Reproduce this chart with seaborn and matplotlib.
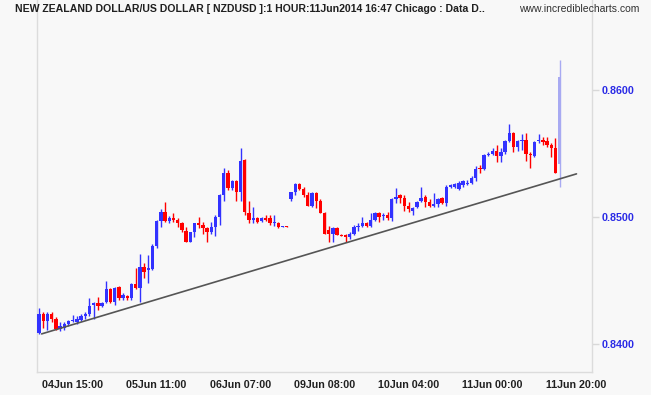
import matplotlib
matplotlib.use("Agg")
import matplotlib.pyplot as plt
import numpy as np
import pandas as pd
import seaborn as sns

# ---------------- data (NZDUSD, 1 hour candles) ----------------
opens = [0.8409, 0.8424, 0.8418, 0.8424, 0.8420, 0.8412, 0.8413, 0.8416, 0.8418, 0.8417,
         0.8419, 0.8422, 0.8424, 0.8431, 0.8432, 0.8430, 0.8433, 0.8443, 0.8433, 0.8445,
         0.8436, 0.8438, 0.8436, 0.8447, 0.8444, 0.8461, 0.8458, 0.8459, 0.8477, 0.8497,
         0.8504, 0.8497, 0.8499, 0.8498, 0.8495, 0.8489, 0.8480, 0.8488, 0.8495, 0.8494,
         0.8491, 0.8488, 0.8492, 0.8500, 0.8517, 0.8535, 0.8523, 0.8528, 0.8520, 0.8545,
         0.8503, 0.8498, 0.8499, 0.8497, 0.8499, 0.8499, 0.8495, 0.8495, 0.8492, 0.8493,
         0.8514, 0.8520, 0.8526, 0.8522, 0.8517, 0.8509, 0.8519, 0.8513, 0.8503, 0.8490,
         0.8487, 0.8491, 0.8486, 0.8486, 0.8484, 0.8487, 0.8492, 0.8493, 0.8495, 0.8493,
         0.8498, 0.8503, 0.8501, 0.8502, 0.8499, 0.8514, 0.8517, 0.8515, 0.8509, 0.8505,
         0.8508, 0.8513, 0.8516, 0.8512, 0.8509, 0.8510, 0.8515, 0.8511, 0.8524, 0.8524,
         0.8522, 0.8525, 0.8526, 0.8527, 0.8531, 0.8539, 0.8538, 0.8549, 0.8550, 0.8552,
         0.8548, 0.8551, 0.8560, 0.8566, 0.8555, 0.8560, 0.8561, 0.8550, 0.8548, 0.8560,
         0.8561, 0.8560, 0.8557, 0.8554, 0.8542]
highs = [0.8428, 0.8425, 0.8425, 0.8425, 0.8421, 0.8417, 0.8417, 0.8419, 0.8423, 0.8422,
         0.8424, 0.8425, 0.8436, 0.8433, 0.8437, 0.8433, 0.8450, 0.8444, 0.8445, 0.8446,
         0.8440, 0.8439, 0.8448, 0.8460, 0.8471, 0.8464, 0.8470, 0.8479, 0.8498, 0.8506,
         0.8512, 0.8501, 0.8503, 0.8499, 0.8496, 0.8492, 0.8488, 0.8495, 0.8500, 0.8496,
         0.8492, 0.8496, 0.8502, 0.8518, 0.8539, 0.8537, 0.8529, 0.8529, 0.8554, 0.8546,
         0.8513, 0.8508, 0.8500, 0.8500, 0.8502, 0.8502, 0.8502, 0.8496, 0.8493, 0.8493,
         0.8520, 0.8527, 0.8527, 0.8524, 0.8520, 0.8520, 0.8520, 0.8514, 0.8504, 0.8493,
         0.8492, 0.8492, 0.8487, 0.8487, 0.8488, 0.8494, 0.8495, 0.8500, 0.8496, 0.8503,
         0.8504, 0.8504, 0.8503, 0.8504, 0.8515, 0.8523, 0.8518, 0.8517, 0.8512, 0.8508,
         0.8513, 0.8524, 0.8517, 0.8514, 0.8519, 0.8515, 0.8516, 0.8525, 0.8526, 0.8527,
         0.8528, 0.8529, 0.8529, 0.8532, 0.8540, 0.8541, 0.8550, 0.8551, 0.8554, 0.8557,
         0.8554, 0.8561, 0.8573, 0.8567, 0.8561, 0.8565, 0.8566, 0.8551, 0.8560, 0.8565,
         0.8563, 0.8563, 0.8558, 0.8562, 0.8624]
lows = [0.8408, 0.8413, 0.8411, 0.8417, 0.8411, 0.8410, 0.8411, 0.8414, 0.8417, 0.8416,
        0.8418, 0.8420, 0.8422, 0.8420, 0.8427, 0.8429, 0.8432, 0.8432, 0.8431, 0.8435,
        0.8435, 0.8435, 0.8435, 0.8443, 0.8433, 0.8452, 0.8448, 0.8458, 0.8476, 0.8492,
        0.8496, 0.8495, 0.8496, 0.8492, 0.8488, 0.8480, 0.8480, 0.8484, 0.8491, 0.8487,
        0.8480, 0.8487, 0.8485, 0.8494, 0.8513, 0.8521, 0.8521, 0.8513, 0.8513, 0.8502,
        0.8495, 0.8495, 0.8495, 0.8496, 0.8497, 0.8494, 0.8493, 0.8491, 0.8492, 0.8492,
        0.8513, 0.8517, 0.8521, 0.8516, 0.8509, 0.8508, 0.8507, 0.8503, 0.8487, 0.8480,
        0.8480, 0.8486, 0.8485, 0.8480, 0.8483, 0.8486, 0.8489, 0.8492, 0.8492, 0.8492,
        0.8497, 0.8496, 0.8498, 0.8498, 0.8497, 0.8511, 0.8511, 0.8505, 0.8504, 0.8502,
        0.8507, 0.8512, 0.8508, 0.8508, 0.8508, 0.8508, 0.8510, 0.8509, 0.8523, 0.8523,
        0.8521, 0.8524, 0.8525, 0.8526, 0.8528, 0.8535, 0.8537, 0.8548, 0.8549, 0.8543,
        0.8543, 0.8550, 0.8559, 0.8551, 0.8552, 0.8553, 0.8544, 0.8539, 0.8547, 0.8558,
        0.8557, 0.8555, 0.8547, 0.8535, 0.8524]
closes = [0.8424, 0.8418, 0.8424, 0.8420, 0.8412, 0.8414, 0.8416, 0.8418, 0.8419, 0.8420,
          0.8422, 0.8424, 0.8430, 0.8432, 0.8430, 0.8432, 0.8443, 0.8433, 0.8444, 0.8436,
          0.8439, 0.8436, 0.8447, 0.8444, 0.8461, 0.8457, 0.8460, 0.8477, 0.8497, 0.8504,
          0.8497, 0.8499, 0.8498, 0.8495, 0.8490, 0.8480, 0.8488, 0.8495, 0.8494, 0.8491,
          0.8488, 0.8492, 0.8500, 0.8517, 0.8535, 0.8523, 0.8528, 0.8520, 0.8544, 0.8504,
          0.8498, 0.8499, 0.8496, 0.8499, 0.8498, 0.8495, 0.8496, 0.8492, 0.8493, 0.8492,
          0.8520, 0.8526, 0.8522, 0.8517, 0.8509, 0.8519, 0.8513, 0.8503, 0.8487, 0.8487,
          0.8491, 0.8486, 0.8485, 0.8484, 0.8487, 0.8492, 0.8493, 0.8495, 0.8493, 0.8498,
          0.8503, 0.8500, 0.8502, 0.8499, 0.8514, 0.8516, 0.8515, 0.8509, 0.8506, 0.8507,
          0.8512, 0.8515, 0.8512, 0.8509, 0.8510, 0.8514, 0.8511, 0.8524, 0.8525, 0.8526,
          0.8527, 0.8528, 0.8527, 0.8531, 0.8538, 0.8538, 0.8549, 0.8550, 0.8552, 0.8548,
          0.8551, 0.8560, 0.8566, 0.8555, 0.8560, 0.8561, 0.8550, 0.8549, 0.8559, 0.8561,
          0.8559, 0.8557, 0.8554, 0.8535, 0.8610]

tick_pos = [8, 28, 48, 68, 88, 108, 128]
tick_labels = ["04Jun 15:00", "05Jun 11:00", "06Jun 07:00", "09Jun 08:00",
               "10Jun 04:00", "11Jun 00:00", "11Jun 20:00"]
y_ticks = [0.8400, 0.8500, 0.8600]
y_tick_labels = ["0.8400", "0.8500", "0.8600"]
trend_x = [0.6, 128.0]
trend_y = [0.8408, 0.8534]

title_text = "NEW ZEALAND DOLLAR/US DOLLAR [ NZDUSD ]:1 HOUR:11Jun2014 16:47 Chicago : Data D.."
site_text = "www.incrediblecharts.com"

# ---------------- build frame ----------------
df = pd.DataFrame({"open": opens, "high": highs, "low": lows, "close": closes})
df["idx"] = np.arange(len(df))
df["dir"] = np.where(df["close"] >= df["open"], "up", "down")
df.loc[df.index[-1], "dir"] = "live"

palette = {"up": "#3232ff", "down": "#ff0000", "live": "#a8aaf2"}

sns.set_style("white")
plt.rcParams["font.family"] = ["Liberation Sans", "DejaVu Sans"]

W, H = 651, 395
fig = plt.figure(figsize=(W / 100, H / 100), dpi=100)
bg = "#f8f8f8"
fig.patch.set_facecolor(bg)
ax = fig.add_axes([37 / W, 23 / H, 555 / W, 372 / H])
ax.set_facecolor(bg)

# wicks and bodies
for d, sub in df.groupby("dir"):
    ax.vlines(sub["idx"], sub["low"], sub["high"], color=palette[d], lw=1.0, zorder=2)
    body = (sub["close"] - sub["open"]).abs().clip(lower=0.00009)
    bottom = np.minimum(sub["open"], sub["close"])
    ax.bar(sub["idx"], body, bottom=bottom, width=0.8, color=palette[d],
           linewidth=0, zorder=3)

# trend line
trend = pd.DataFrame({"x": trend_x, "y": trend_y})
sns.lineplot(data=trend, x="x", y="y", ax=ax, color="#555555", lw=1.2, zorder=4)

ax.set_xlim(-0.5, 131.7)
ax.set_ylim(0.83780, 0.86709)

ax.set_xticks(tick_pos)
ax.set_xticklabels(tick_labels, fontsize=7.7, fontweight="bold", color="#202020")
ax.set_yticks(y_ticks)
ax.set_yticklabels(y_tick_labels, fontsize=7.7, fontweight="bold", color="#2a2ae6")
ax.yaxis.tick_right()
ax.tick_params(axis="x", direction="out", length=4, width=1, color="#d8d8d8", pad=2)
ax.tick_params(axis="y", direction="out", length=5, width=1, color="#d8d8d8", pad=2)
ax.set_xlabel("")
ax.set_ylabel("")

for s in ["left", "right", "bottom"]:
    ax.spines[s].set_color("#dcdcdc")
    ax.spines[s].set_linewidth(1)
ax.spines["top"].set_visible(False)

# title texts
t = fig.text(15 / W, 1 - 9 / H, title_text, fontsize=8, fontweight="bold",
             color="#202020", va="center", ha="left")
s = fig.text(639 / W, 1 - 9 / H, site_text, fontsize=7.5, color="#303030",
             va="center", ha="right")
fig.canvas.draw()
r = fig.canvas.get_renderer()
bb = t.get_window_extent(r)
t.set_fontsize(8 * 470 / bb.width)
bb2 = s.get_window_extent(r)
s.set_fontsize(7.5 * 120 / bb2.width)

fig.savefig("out.png", dpi=100, facecolor=bg)
